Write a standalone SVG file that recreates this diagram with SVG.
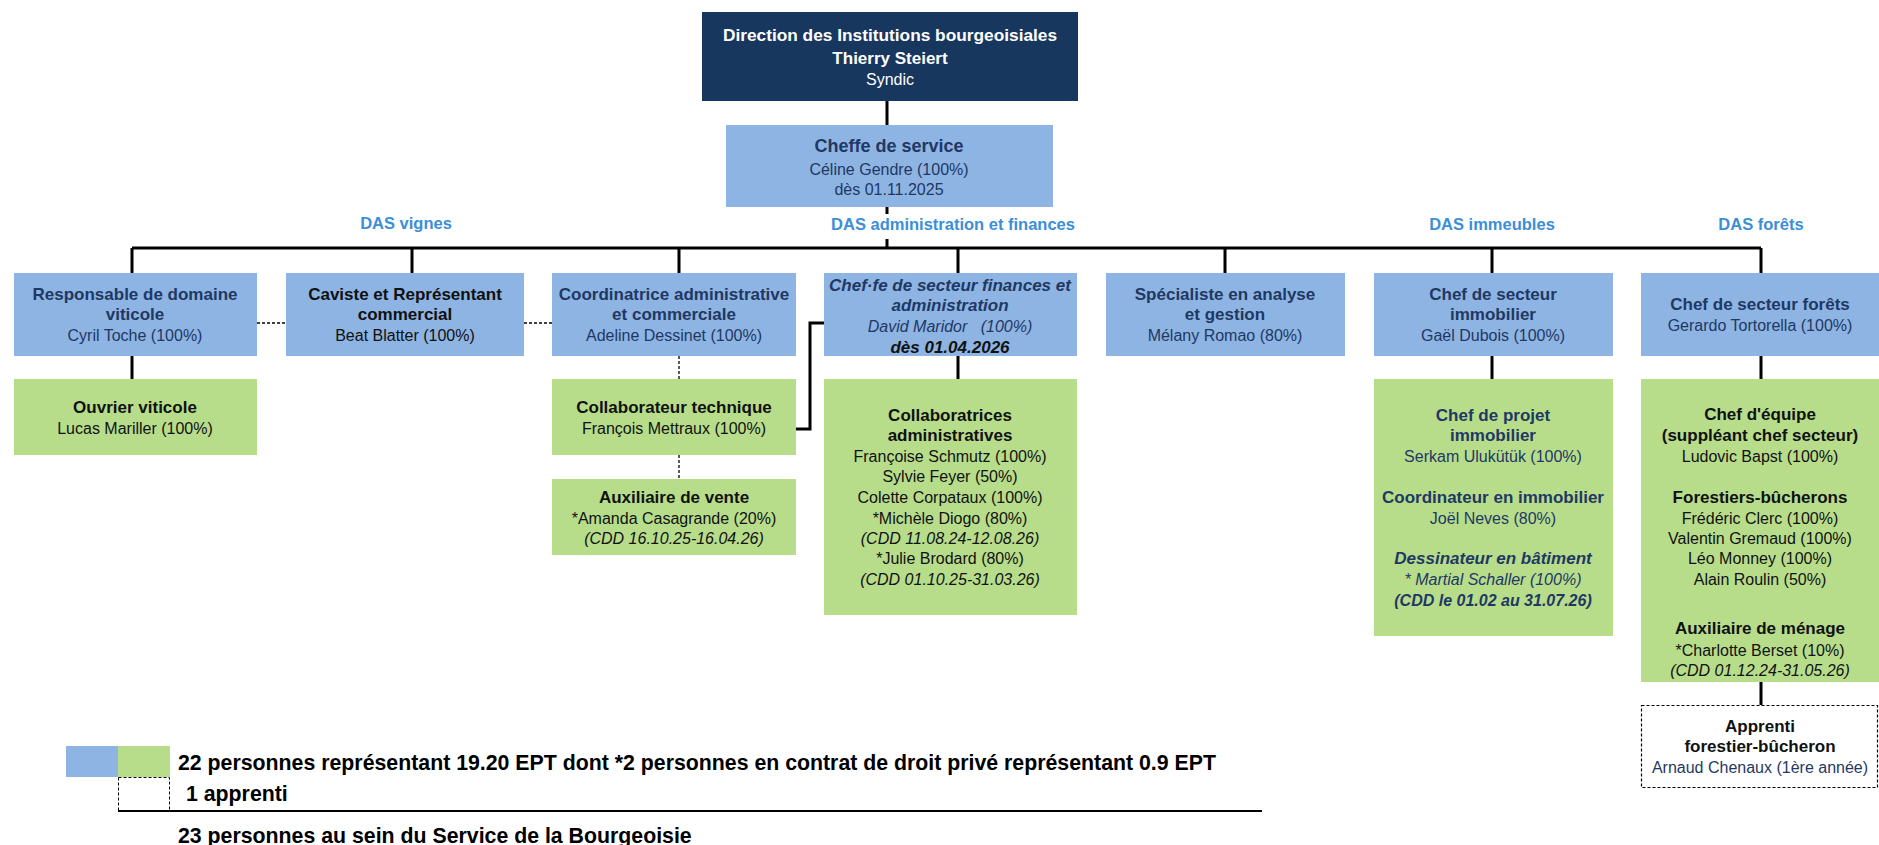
<svg xmlns="http://www.w3.org/2000/svg" width="1879" height="845" viewBox="0 0 1879 845">
<style>
text{font-family:"Liberation Sans",Arial,sans-serif;text-anchor:middle;font-size:16px;fill:#1f3864}
.t{font-weight:bold;font-size:17px}
.k{fill:#111}
.i{font-style:italic}
.w{fill:#fff}
.das{font-weight:bold;font-size:16.5px;fill:#3b8ed8}
.blue{fill:#8db4e2}
.green{fill:#b7dd8b}
.ln{stroke:#000;stroke-width:3;fill:none}
.dot{stroke:#000;stroke-width:1.3;stroke-dasharray:3 2;fill:none}
.leg{font-weight:bold;font-size:21.3px;fill:#000;text-anchor:start}
</style>
<rect width="1879" height="845" fill="#fff"/>
<g id="connectors">
<path class="ln" d="M887 101V125M887 207V214M887 239V248M132 248H1761M132 248V273M412 248V273M679 248V273M958 248V273M1225 248V273M1492 248V273M1761 248V273"/>
<path class="ln" d="M132 356V379M958 356V379M1492 356V379M1761 356V379M1761 682V705"/>
<path class="ln" d="M824 323H810V429H796"/>
<path class="dot" d="M257 323H286M524 323H552M679 356V379M679 455V479"/>
</g>
<g id="labels">
<text class="das" x="406" y="229">DAS vignes</text>
<text class="das" x="953" y="230">DAS administration et finances</text>
<text class="das" x="1492" y="230">DAS immeubles</text>
<text class="das" x="1761" y="230">DAS forêts</text>
</g>
<g id="direction">
<rect x="702" y="12" width="376" height="89" fill="#17375e"/>
<text class="t w" x="890" y="41" style="font-size:17.3px">Direction des Institutions bourgeoisiales</text>
<text class="t w" x="890" y="64">Thierry Steiert</text>
<text class="w" x="890" y="85">Syndic</text>
</g>
<g id="cheffe">
<rect class="blue" x="726" y="125" width="327" height="82"/>
<text class="t" x="889" y="152" style="font-size:18px">Cheffe de service</text>
<text x="889" y="175">Céline Gendre (100%)</text>
<text x="889" y="195">dès 01.11.2025</text>
</g>
<g id="resp-viticole">
<rect class="blue" x="14" y="273" width="243" height="83"/>
<text class="t" x="135" y="300">Responsable de domaine</text>
<text class="t" x="135" y="320">viticole</text>
<text x="135" y="341">Cyril Toche (100%)</text>
</g>
<g id="caviste">
<rect class="blue" x="286" y="273" width="238" height="83"/>
<text class="t k" x="405" y="300">Caviste et Représentant</text>
<text class="t k" x="405" y="320">commercial</text>
<text class="k" x="405" y="341">Beat Blatter (100%)</text>
</g>
<g id="coordinatrice">
<rect class="blue" x="552" y="273" width="244" height="83"/>
<text class="t" x="674" y="300">Coordinatrice administrative</text>
<text class="t" x="674" y="320">et commerciale</text>
<text x="674" y="341">Adeline Dessinet (100%)</text>
</g>
<g id="chef-finances">
<rect class="blue" x="824" y="273" width="253" height="83"/>
<text class="t i" x="950" y="291">Chef·fe de secteur finances et</text>
<text class="t i" x="950" y="311">administration</text>
<text class="i" x="950" y="332" xml:space="preserve">David Maridor   (100%)</text>
<text class="t i k" x="950" y="353">dès 01.04.2026</text>
</g>
<g id="specialiste">
<rect class="blue" x="1106" y="273" width="239" height="83"/>
<text class="t" x="1225" y="300">Spécialiste en analyse</text>
<text class="t" x="1225" y="320">et gestion</text>
<text x="1225" y="341">Mélany Romao (80%)</text>
</g>
<g id="chef-immobilier">
<rect class="blue" x="1374" y="273" width="239" height="83"/>
<text class="t" x="1493" y="300">Chef de secteur</text>
<text class="t" x="1493" y="320">immobilier</text>
<text x="1493" y="341">Gaël Dubois (100%)</text>
</g>
<g id="chef-forets">
<rect class="blue" x="1641" y="273" width="238" height="83"/>
<text class="t" x="1760" y="310">Chef de secteur forêts</text>
<text x="1760" y="331">Gerardo Tortorella (100%)</text>
</g>
<g id="ouvrier">
<rect class="green" x="14" y="379" width="243" height="76"/>
<text class="t k" x="135" y="413">Ouvrier viticole</text>
<text class="k" x="135" y="434">Lucas Mariller (100%)</text>
</g>
<g id="collab-tech">
<rect class="green" x="552" y="379" width="244" height="76"/>
<text class="t k" x="674" y="413">Collaborateur technique</text>
<text class="k" x="674" y="434">François Mettraux (100%)</text>
</g>
<g id="aux-vente">
<rect class="green" x="552" y="479" width="244" height="76"/>
<text class="t k" x="674" y="503">Auxiliaire de vente</text>
<text class="k" x="674" y="524">*Amanda Casagrande (20%)</text>
<text class="k i" x="674" y="544">(CDD 16.10.25-16.04.26)</text>
</g>
<g id="collaboratrices">
<rect class="green" x="824" y="379" width="253" height="236"/>
<text class="t k" x="950" y="421">Collaboratrices</text>
<text class="t k" x="950" y="441">administratives</text>
<text class="k" x="950" y="462">Françoise Schmutz (100%)</text>
<text class="k" x="950" y="482">Sylvie Feyer (50%)</text>
<text class="k" x="950" y="503">Colette Corpataux (100%)</text>
<text class="k" x="950" y="524">*Michèle Diogo (80%)</text>
<text class="k i" x="950" y="544">(CDD 11.08.24-12.08.26)</text>
<text class="k" x="950" y="564">*Julie Brodard (80%)</text>
<text class="k i" x="950" y="585">(CDD 01.10.25-31.03.26)</text>
</g>
<g id="projet-immobilier">
<rect class="green" x="1374" y="379" width="239" height="257"/>
<text class="t" x="1493" y="421">Chef de projet</text>
<text class="t" x="1493" y="441">immobilier</text>
<text x="1493" y="462">Serkam Ulukütük (100%)</text>
<text class="t" x="1493" y="503">Coordinateur en immobilier</text>
<text x="1493" y="524">Joël Neves (80%)</text>
<text class="t i" x="1493" y="564">Dessinateur en bâtiment</text>
<text class="i" x="1493" y="585">* Martial Schaller (100%)</text>
<text class="t i" x="1493" y="606" style="font-size:16px">(CDD le 01.02 au 31.07.26)</text>
</g>
<g id="chef-equipe">
<rect class="green" x="1641" y="379" width="238" height="303"/>
<text class="t k" x="1760" y="420">Chef d'équipe</text>
<text class="t k" x="1760" y="441">(suppléant chef secteur)</text>
<text class="k" x="1760" y="462">Ludovic Bapst (100%)</text>
<text class="t k" x="1760" y="503">Forestiers-bûcherons</text>
<text class="k" x="1760" y="524">Frédéric Clerc (100%)</text>
<text class="k" x="1760" y="544">Valentin Gremaud (100%)</text>
<text class="k" x="1760" y="564">Léo Monney (100%)</text>
<text class="k" x="1760" y="585">Alain Roulin (50%)</text>
<text class="t k" x="1760" y="634">Auxiliaire de ménage</text>
<text class="k" x="1760" y="656">*Charlotte Berset (10%)</text>
<text class="k i" x="1760" y="676">(CDD 01.12.24-31.05.26)</text>
</g>
<g id="apprenti">
<rect x="1641.5" y="705.5" width="236" height="82" fill="#fff" stroke="#000" stroke-width="1.2" stroke-dasharray="3 2"/>
<text class="t k" x="1760" y="732">Apprenti</text>
<text class="t k" x="1760" y="752">forestier-bûcheron</text>
<text x="1760" y="773">Arnaud Chenaux (1ère année)</text>
</g>
<g id="legend">
<rect class="blue" x="66" y="746" width="52" height="31"/>
<rect class="green" x="118" y="746" width="52" height="31"/>
<text class="leg" x="178" y="770">22 personnes représentant 19.20 EPT dont *2 personnes en contrat de droit privé représentant 0.9 EPT</text>
<rect x="118.5" y="777.5" width="51" height="33" fill="none" stroke="#000" stroke-width="1" stroke-dasharray="3 2"/>
<text class="leg" x="186" y="801">1 apprenti</text>
<line x1="118" y1="811" x2="1262" y2="811" stroke="#000" stroke-width="2"/>
<text class="leg" x="178" y="843">23 personnes au sein du Service de la Bourgeoisie</text>
</g>
</svg>
